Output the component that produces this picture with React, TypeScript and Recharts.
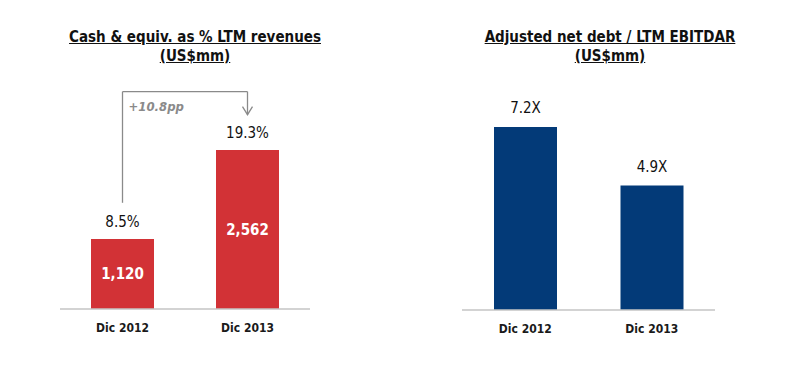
import { Bar, BarChart, LabelList, ReferenceDot, ReferenceLine, XAxis, YAxis } from 'recharts';

const periods = ['Dic 2012', 'Dic 2013'];
const cashPct = [8.5, 19.3];
const cashAmount = [1120, 2562];
const leverage = [7.2, 4.9];
const changeLabel = '+10.8pp';

const FONT = '"DejaVu Sans Condensed", "DejaVu Sans", sans-serif';
const RED = '#d23236';
const NAVY = '#033a78';
const GREY = '#8a8a8a';

const cashData = periods.map((period, i) => ({ period, pct: cashPct[i], amount: cashAmount[i] }));
const debtData = periods.map((period, i) => ({ period, ratio: leverage[i] }));

// bracket levels, in % units of the left axis
const bracketTop = 26.4;
const bracketStart = 12.9;
const arrowTip = 23.6;

const tickStyle = { fontFamily: FONT, fontSize: 12, fontWeight: 700, fill: '#1a1a1a' };

function Title({ left, lines }: { left: number; lines: string[] }) {
  return (
    <div
      style={{
        position: 'absolute',
        left,
        top: 28,
        width: 320,
        textAlign: 'center',
        fontFamily: FONT,
        fontWeight: 700,
        fontSize: 15,
        lineHeight: '19px',
        color: '#111',
        textDecoration: 'underline',
      }}
    >
      {lines.map((l) => (
        <div key={l}>{l}</div>
      ))}
    </div>
  );
}

function Chevron(props: { cx?: number; cy?: number }) {
  const { cx = 0, cy = 0 } = props;
  return (
    <path
      d={`M${cx - 5},${cy - 8} L${cx},${cy} L${cx + 5},${cy - 8}`}
      fill="none"
      stroke={GREY}
      strokeWidth={1.3}
    />
  );
}

function ChangeText(props: { cx?: number; cy?: number }) {
  const { cx = 0, cy = 0 } = props;
  return (
    <text
      x={cx + 6}
      y={cy + 19}
      fontFamily={FONT}
      fontSize={13}
      fontWeight={700}
      fontStyle="italic"
      fill={GREY}
    >
      {changeLabel}
    </text>
  );
}

export default function App() {
  return (
    <div style={{ position: 'absolute', left: 0, top: 0, width: 800, height: 375, background: '#fff' }}>
      <Title left={35} lines={['Cash & equiv. as % LTM revenues', '(US$mm)']} />
      <Title left={450} lines={['Adjusted net debt / LTM EBITDAR', '(US$mm)']} />

      <div style={{ position: 'absolute', left: 0, top: 0 }}>
        <BarChart width={360} height={375} data={cashData} margin={{ top: 62, right: 50, bottom: 36, left: 60 }}>
          <XAxis
            dataKey="period"
            axisLine={{ stroke: '#c4c4c4', strokeWidth: 1.5 }}
            tickLine={false}
            tick={tickStyle}
            tickMargin={8}
          />
          <YAxis hide domain={[0, 30]} />
          <Bar dataKey="pct" fill={RED} barSize={63} isAnimationActive={false}>
            <LabelList
              dataKey="pct"
              position="top"
              offset={12}
              formatter={(v: number) => `${v}%`}
              style={{ fontFamily: FONT, fontSize: 15, fill: '#111' }}
            />
            <LabelList
              dataKey="amount"
              position="center"
              formatter={(v: number) => v.toLocaleString('en-US')}
              style={{ fontFamily: FONT, fontSize: 15, fontWeight: 700, fill: '#fff' }}
            />
          </Bar>
          <ReferenceLine
            segment={[
              { x: periods[0], y: bracketStart },
              { x: periods[0], y: bracketTop },
            ]}
            stroke={GREY}
            strokeWidth={1.3}
            ifOverflow="visible"
          />
          <ReferenceLine
            segment={[
              { x: periods[0], y: bracketTop },
              { x: periods[1], y: bracketTop },
            ]}
            stroke={GREY}
            strokeWidth={1.3}
            ifOverflow="visible"
          />
          <ReferenceLine
            segment={[
              { x: periods[1], y: bracketTop },
              { x: periods[1], y: arrowTip },
            ]}
            stroke={GREY}
            strokeWidth={1.3}
            ifOverflow="visible"
          />
          <ReferenceDot x={periods[1]} y={arrowTip} shape={<Chevron />} ifOverflow="visible" />
          <ReferenceDot x={periods[0]} y={bracketTop} shape={<ChangeText />} ifOverflow="visible" />
        </BarChart>
      </div>

      <div style={{ position: 'absolute', left: 400, top: 0 }}>
        <BarChart width={400} height={375} data={debtData} margin={{ top: 56, right: 85, bottom: 35, left: 62 }}>
          <XAxis
            dataKey="period"
            axisLine={{ stroke: '#c4c4c4', strokeWidth: 1.5 }}
            tickLine={false}
            tick={tickStyle}
            tickMargin={8}
          />
          <YAxis hide domain={[0, 10]} />
          <Bar dataKey="ratio" fill={NAVY} barSize={63} isAnimationActive={false}>
            <LabelList
              dataKey="ratio"
              position="top"
              offset={14}
              formatter={(v: number) => `${v.toFixed(1)}X`}
              style={{ fontFamily: FONT, fontSize: 15, fill: '#111' }}
            />
          </Bar>
        </BarChart>
      </div>
    </div>
  );
}
